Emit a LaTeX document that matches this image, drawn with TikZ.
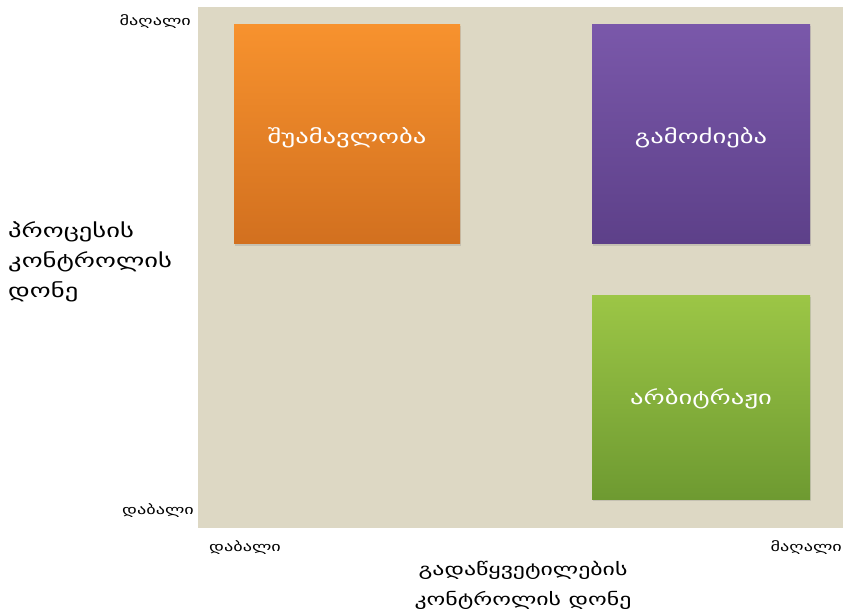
\documentclass[tikz,border=0pt]{standalone}
\usepackage{fontspec}
\setmainfont{DejaVu Sans}
\newfontfamily\widegeo[FakeStretch=1.4]{DejaVu Sans}
\usetikzlibrary{shadows}
\definecolor{panel}{HTML}{DDD8C4}
\definecolor{orangeT}{HTML}{F7922E}
\definecolor{orangeB}{HTML}{D2701F}
\definecolor{purpleT}{HTML}{7A58AA}
\definecolor{purpleB}{HTML}{5D4089}
\definecolor{greenT}{HTML}{9CC646}
\definecolor{greenB}{HTML}{6E9A31}
\tikzset{
  quad/.style={rectangle, inner sep=0pt, text=white, font=\widegeo\fontsize{19}{22}\selectfont,
    drop shadow={opacity=0.25, shadow xshift=1pt, shadow yshift=-2pt}},
  quadlabel/.style={text=white, font=\widegeo\fontsize{19}{22}\selectfont, inner sep=0pt},
  tick/.style={font=\widegeo\fontsize{13}{15}\selectfont, inner sep=0pt},
  axis/.style={font=\widegeo\fontsize{19}{30}\selectfont, inner sep=0pt, align=left},
}
\begin{document}
\begin{tikzpicture}[x=1pt,y=-1pt]
\useasboundingbox[fill=white] (0,0) rectangle (843,615);
\fill[panel] (198,7) rectangle (843,528);
\node[quad, minimum width=226pt, minimum height=219pt, top color=orangeT, bottom color=orangeB] (med) at (347,134) {};
\node[quad, minimum width=218pt, minimum height=219pt, top color=purpleT, bottom color=purpleB] (inv) at (701,134) {};
\node[quad, minimum width=218pt, minimum height=204pt, top color=greenT, bottom color=greenB] (arb) at (701,397) {};
\node[quadlabel] (medl) at ([yshift=-4pt]med.center) {შუამავლობა};
\node[quadlabel] (invl) at ([yshift=-4pt]inv.center) {გამოძიება};
\node[quadlabel] (arbl) at ([yshift=-2pt]arb.center) {არბიტრაჟი};
\node[tick, anchor=east] (yhi) at (191,22) {მაღალი};
\node[tick, anchor=east] (ylo) at (194,511) {დაბალი};
\node[tick, anchor=west] (xlo) at (209,548) {დაბალი};
\node[tick, anchor=east] (xhi) at (842,548) {მაღალი};
\node[axis, anchor=west] (ylab) at (8,262) {პროცესის\\კონტროლის\\დონე};
\node[axis, align=center, font=\widegeo\fontsize{17}{30}\selectfont] (xlab) at (523,585) {გადაწყვეტილების\\კონტროლის დონე};
\end{tikzpicture}
\end{document}
